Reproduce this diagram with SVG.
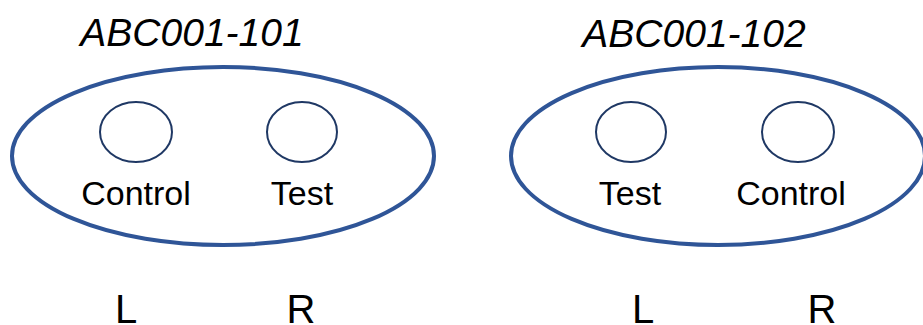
<svg xmlns="http://www.w3.org/2000/svg" width="923" height="325" viewBox="0 0 923 325">
  <style>
    .plate { fill: none; stroke: #2F5597; stroke-width: 4; }
    .well { fill: none; stroke: #1F3864; stroke-width: 2; }
    .title { font-family: "Liberation Sans", Arial, sans-serif; font-style: italic; font-size: 39px; fill: #000; text-anchor: middle; }
    .label { font-family: "Liberation Sans", Arial, sans-serif; font-size: 34px; fill: #000; text-anchor: middle; }
    .side { font-family: "Liberation Sans", Arial, sans-serif; font-size: 40px; fill: #000; text-anchor: middle; }
  </style>
  <rect width="923" height="325" fill="#fff"/>

  <!-- Sample ABC001-101 -->
  <g id="sample-101">
    <text class="title" x="192" y="46">ABC001-101</text>
    <ellipse class="plate" cx="223" cy="156" rx="211" ry="89"/>
    <g id="s101-control">
      <ellipse class="well" cx="136" cy="132" rx="36" ry="30"/>
      <text class="label" x="136" y="205">Control</text>
    </g>
    <g id="s101-test">
      <ellipse class="well" cx="302" cy="132" rx="35" ry="30"/>
      <text class="label" x="302" y="205">Test</text>
    </g>
  </g>

  <!-- Sample ABC001-102 -->
  <g id="sample-102">
    <text class="title" x="694" y="47">ABC001-102</text>
    <ellipse class="plate" cx="718" cy="156" rx="207" ry="89"/>
    <g id="s102-test">
      <ellipse class="well" cx="631" cy="132" rx="35" ry="30"/>
      <text class="label" x="630" y="205">Test</text>
    </g>
    <g id="s102-control">
      <ellipse class="well" cx="798" cy="132" rx="36" ry="30"/>
      <text class="label" x="791" y="205">Control</text>
    </g>
  </g>

  <!-- Side markers -->
  <g id="sides">
    <text class="side" x="126" y="323">L</text>
    <text class="side" x="301" y="323">R</text>
    <text class="side" x="643" y="323">L</text>
    <text class="side" x="822" y="323">R</text>
  </g>
  <g id="connectors"/>
</svg>
